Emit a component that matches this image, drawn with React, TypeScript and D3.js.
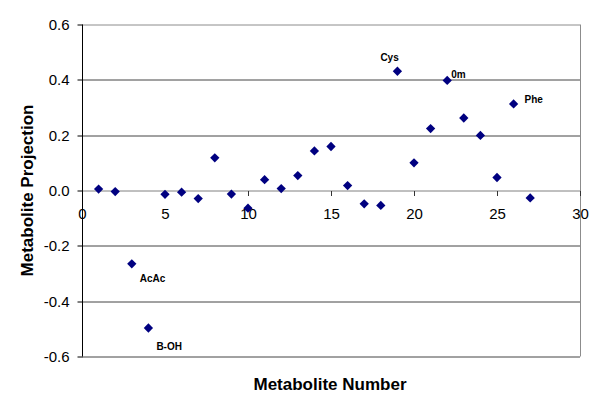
import * as d3 from "d3";

// Metabolite number / projection values
const metaboliteNumbers = [1, 2, 3, 4, 5, 6, 7, 8, 9, 10, 11, 12, 13, 14, 15, 16, 17, 18, 19, 20, 21, 22, 23, 24, 25, 26, 27];
const projections = [
  0.005, -0.004, -0.265, -0.497, -0.014, -0.006, -0.029, 0.118, -0.013, -0.064,
  0.039, 0.007, 0.054, 0.143, 0.159, 0.018, -0.048, -0.054, 0.431, 0.1,
  0.224, 0.398, 0.262, 0.199, 0.047, 0.313, -0.027,
];

// labelled points: metabolite number and its name
const labelNumbers = [3, 4, 19, 22, 26];
const labelNames = ["AcAc", "B-OH", "Cys", "0m", "Phe"];

const xTicks = [0, 5, 10, 15, 20, 25, 30];
const yTicks = [-0.6, -0.4, -0.2, 0, 0.2, 0.4, 0.6];

const W = 600;
const H = 410;
const margin = { top: 24.5, right: 20, bottom: 53.5, left: 82 };

export default function App() {
  const innerW = W - margin.left - margin.right;
  const innerH = H - margin.top - margin.bottom;

  const x = d3.scaleLinear().domain([0, 30]).range([0, innerW]);
  const y = d3.scaleLinear().domain([-0.6, 0.6]).range([innerH, 0]);

  const diamond = d3.symbol().type(d3.symbolDiamond2).size(55)() || "";

  // label offsets relative to the point (text anchor start)
  const labelOffsets: Record<string, [number, number]> = {
    AcAc: [8, 18],
    "B-OH": [8, 22],
    Cys: [-17, -10],
    "0m": [4, -2],
    Phe: [11, -1],
  };

  const font = "'Liberation Sans', Arial, sans-serif";

  return (
    <div style={{ position: "fixed", left: 0, top: 0 }}>
      <svg width={W} height={H} style={{ display: "block", background: "#fff" }}>
        <g transform={`translate(${margin.left},${margin.top})`}>
          {/* horizontal grid */}
          {yTicks
            .filter((t) => t !== 0)
            .map((t) => (
              <line
                key={t}
                x1={0}
                x2={innerW}
                y1={Math.round(y(t)) + 0.5}
                y2={Math.round(y(t)) + 0.5}
                stroke={t === 0.6 ? "#8c8c8c" : "#444"}
                strokeWidth={1}
              />
            ))}
          {/* right border */}
          <line x1={innerW + 0.5} x2={innerW + 0.5} y1={0} y2={innerH} stroke="#8c8c8c" />

          {/* x axis at y = 0 */}
          <line
            x1={0}
            x2={innerW}
            y1={Math.round(y(0)) + 0.5}
            y2={Math.round(y(0)) + 0.5}
            stroke="#808080"
          />
          {xTicks.map((t) => (
            <g key={t} transform={`translate(${Math.round(x(t)) + 0.5},${Math.round(y(0)) + 0.5})`}>
              <line y1={0} y2={5} stroke="#333" />
              <text
                y={28}
                textAnchor="middle"
                fontFamily={font}
                fontSize={15}
                fill="#000"
              >
                {t}
              </text>
            </g>
          ))}

          {/* y axis */}
          <line x1={0.5} x2={0.5} y1={0} y2={innerH} stroke="#000" />
          {yTicks.map((t) => (
            <g key={t} transform={`translate(0.5,${Math.round(y(t)) + 0.5})`}>
              <line x1={-5} x2={0} stroke="#000" />
              <text
                x={-13}
                y={5}
                textAnchor="end"
                fontFamily={font}
                fontSize={15}
                fill="#000"
              >
                {t.toFixed(1)}
              </text>
            </g>
          ))}

          {/* points */}
          {metaboliteNumbers.map((n, i) => (
            <path
              key={n}
              d={diamond}
              transform={`translate(${x(n)},${y(projections[i])})`}
              fill="#000080"
            />
          ))}

          {/* point labels */}
          {labelNumbers.map((n, i) => {
            const name = labelNames[i];
            const [dx, dy] = labelOffsets[name];
            return (
              <text
                key={name}
                x={x(n) + dx}
                y={y(projections[n - 1]) + dy}
                fontFamily={font}
                fontSize={10}
                fontWeight="bold"
                fill="#000"
              >
                {name}
              </text>
            );
          })}
        </g>

        {/* axis titles */}
        <text
          x={330}
          y={390}
          textAnchor="middle"
          fontFamily={font}
          fontSize={17}
          fontWeight="bold"
          fill="#000"
        >
          Metabolite Number
        </text>
        <text
          transform={`translate(33,${margin.top + innerH / 2}) rotate(-90)`}
          textAnchor="middle"
          fontFamily={font}
          fontSize={17}
          fontWeight="bold"
          fill="#000"
        >
          Metabolite Projection
        </text>
      </svg>
    </div>
  );
}
